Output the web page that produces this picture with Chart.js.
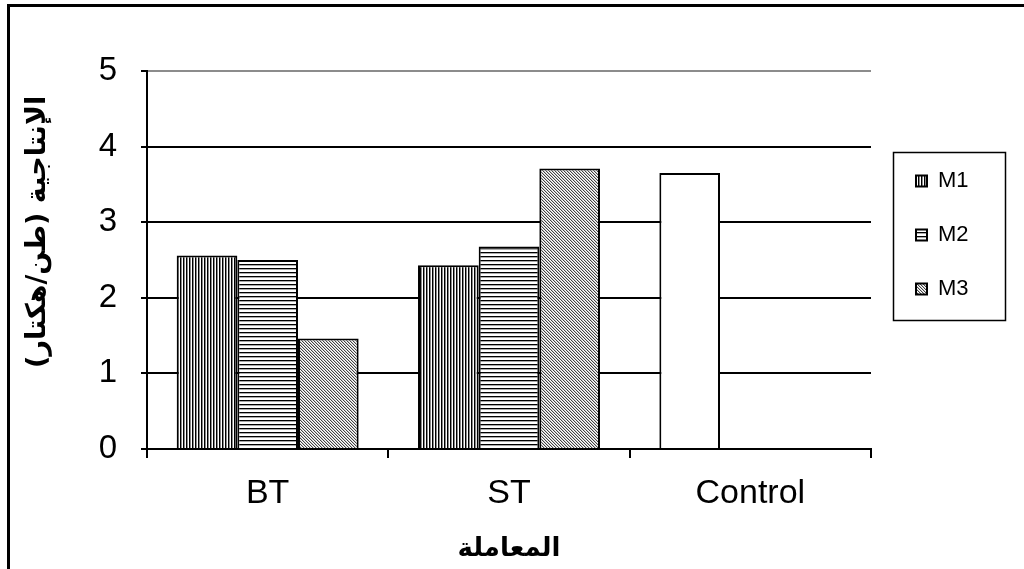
<!DOCTYPE html>
<html>
<head>
  <meta charset="utf-8">
  <script src="https://cdn.jsdelivr.net/npm/chart.js"></script>
  <style>
    body { margin: 0; background: #fff; }
    #wrap { width: 1024px; height: 569px; position: relative; }
  </style>
</head>
<body>
  <div id="wrap">
    <canvas id="chart" width="1024" height="569"></canvas>
  </div>

  <script>
    // data
    const categories = ['BT', 'ST', 'Control']
    const seriesNames = ['M1', 'M2', 'M3']
    const m1Values = [2.56, 2.43, 3.65]
    const m2Values = [2.50, 2.68, null]
    const m3Values = [1.46, 3.71, null]
    const yTicks = [0, 1, 2, 3, 4, 5]

    const yTitle = '      الإنتاجية (طن/هكتار)'
    const xTitle = 'المعاملة'

    const latin = '"Liberation Sans", Arial, sans-serif'
    const arabic = '"DejaVu Sans", "Liberation Sans", sans-serif'

    // --- fill patterns like the old excel ones ---
    function makePattern(w, h, paint) {
      const tile = document.createElement('canvas')
      tile.width = w
      tile.height = h
      const t = tile.getContext('2d')
      t.fillStyle = '#fff'
      t.fillRect(0, 0, w, h)
      paint(t)
      return document.getElementById('chart').getContext('2d').createPattern(tile, 'repeat')
    }

    const vertLines = makePattern(3, 3, t => {
      t.fillStyle = '#000'
      t.fillRect(0, 0, 1, 3)
      t.fillStyle = '#8a8a8a'
      t.fillRect(1, 0, 1, 3)
    })
    const horizLines = makePattern(4, 4, t => {
      t.fillStyle = '#000'
      t.fillRect(0, 0, 4, 1)
      t.fillStyle = '#aaa'
      t.fillRect(0, 1, 4, 1)
    })
    const diagLines = makePattern(3, 3, t => {
      t.fillStyle = '#444'
      for (let i = 0; i < 3; i++) t.fillRect(i, i, 1, 1)
      t.fillStyle = '#c8c8c8'
      for (let i = 0; i < 3; i++) t.fillRect((i + 1) % 3, i, 1, 1)
    })

    // Control point of M1 is plain white
    function m1Fill(ctx) {
      return ctx.dataIndex === 2 ? '#fff' : vertLines
    }

    const frameAndLegendBox = {
      id: 'frameAndLegendBox',
      beforeInit(chart) {
        const lg = chart.legend
        if (lg) {
          const origFit = lg.fit.bind(lg)
          lg.fit = function() {
            origFit()
            this.width = 153
          }
        }
      },
      afterLayout(chart) {
        const lg = chart.legend
        lg.left = 884
        lg.right = 1024
        lg.top = 138
        lg.bottom = 565
      },
      afterDraw(chart) {
        const c = chart.ctx
        c.save()
        // outer frame (only top and left reach into the picture)
        c.strokeStyle = '#000'
        c.lineWidth = 3
        c.beginPath()
        c.moveTo(8.5, 569)
        c.lineTo(8.5, 5.5)
        c.lineTo(1024, 5.5)
        c.stroke()
        // legend border
        c.lineWidth = 1.5
        c.strokeRect(893.5, 152.5, 112, 168)
        c.restore()
      }
    }

    new Chart(document.getElementById('chart'), {
      type: 'bar',
      data: {
        labels: categories,
        datasets: [
          { label: seriesNames[0], data: m1Values, backgroundColor: m1Fill },
          { label: seriesNames[1], data: m2Values, backgroundColor: horizLines },
          { label: seriesNames[2], data: m3Values, backgroundColor: diagLines }
        ]
      },
      options: {
        responsive: false,
        animation: false,
        events: [],
        layout: { padding: { left: 0, right: 0, top: 71, bottom: 0 } },
        datasets: {
          bar: {
            borderColor: '#000',
            borderWidth: 2,
            categoryPercentage: 0.754,
            barPercentage: 1.0
          }
        },
        scales: {
          x: {
            grid: {
              offset: true,
              lineWidth: 2,
              color: ctx => ctx.index === categories.length ? '#8c8c8c' : 'rgba(0,0,0,0)',
              tickColor: '#000',
              tickLength: 9
            },
            border: { color: '#000', width: 2 },
            ticks: {
              color: '#000',
              padding: 15,
              font: { family: latin, size: 34 }
            },
            title: {
              display: true,
              text: xTitle,
              color: '#000',
              padding: { top: 0, bottom: 4 },
              font: { family: arabic, size: 26, weight: 'bold' }
            },
            afterFit(scale) { scale.height = 120 }
          },
          y: {
            min: 0,
            max: 5,
            afterBuildTicks(scale) { scale.ticks = yTicks.map(v => ({ value: v })) },
            grid: {
              lineWidth: 2,
              color: ctx => {
                const v = ctx.tick ? ctx.tick.value : null
                if (v === 0) return 'rgba(0,0,0,0)'
                if (v === 5) return '#8c8c8c'
                return '#000'
              },
              tickColor: '#000',
              tickLength: 6
            },
            border: { color: '#000', width: 2 },
            ticks: {
              color: '#000',
              padding: 24,
              font: { family: latin, size: 33 }
            },
            title: {
              display: true,
              text: yTitle,
              color: '#000',
              padding: { top: 22, bottom: 0 },
              font: { family: arabic, size: 27, weight: 'bold' }
            },
            afterFit(scale) { scale.width = 147 }
          }
        },
        plugins: {
          legend: {
            position: 'right',
            align: 'start',
            labels: {
              color: '#000',
              boxWidth: 11,
              boxHeight: 11,
              padding: 32,
              font: { family: latin, size: 22 }
            }
          },
          tooltip: { enabled: false }
        }
      },
      plugins: [frameAndLegendBox]
    })
  </script>
</body>
</html>
